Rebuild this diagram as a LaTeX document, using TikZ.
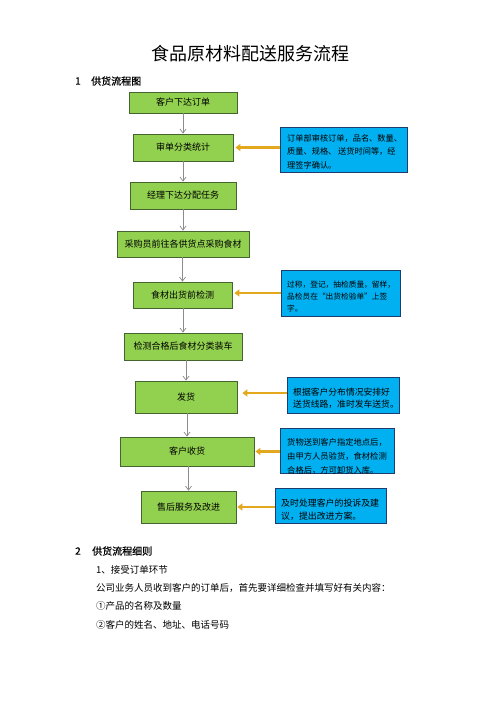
\documentclass[tikz,border=0pt]{standalone}
\usepackage{fontspec}
\setmainfont{Noto Sans CJK SC}
\newfontfamily\headfont[FakeBold=0.6]{Noto Sans CJK SC}
\usetikzlibrary{arrows.meta}
\definecolor{gfill}{RGB}{146,208,80}
\definecolor{gline}{RGB}{70,100,50}
\definecolor{bfill}{RGB}{0,176,240}
\definecolor{bline}{RGB}{30,60,110}
\definecolor{oarrow}{RGB}{228,168,30}
\definecolor{garrow}{RGB}{140,140,140}
\begin{document}
\begin{tikzpicture}[x=1pt,y=-1pt,
  greenbox/.style={draw=gline, fill=gfill, line width=0.8pt, inner sep=0pt, font=\fontsize{9}{11}\selectfont},
  bluebox/.style={draw=bline, fill=bfill, line width=0.8pt, inner sep=0pt},
  notetext/.style={anchor=west, inner sep=0pt, align=left},
  flowarrow/.style={draw=garrow, line width=0.7pt, -{Straight Barb[length=4pt,width=6pt]}},
  notearrow/.style={draw=oarrow, line width=2.5pt, -{Triangle[length=5pt,width=7pt]}},
  heading/.style={anchor=west, inner sep=0pt, font=\headfont\fontsize{10}{12}\selectfont},
  bodytext/.style={anchor=west, inner sep=0pt, font=\fontsize{9.5}{12}\selectfont}]
\fill[white] (0,0) rectangle (500,707);
\useasboundingbox (0,0) rectangle (500,707);

\node[inner sep=0pt, font=\fontsize{18}{20}\selectfont] (title) at (250.5,53.5) {食品原材料配送服务流程};
\node[heading] (h1num) at (75,81) {1};
\node[heading] (h1) at (91,81) {供货流程图};

% green flow boxes
\node[greenbox, minimum width=108pt, minimum height=21pt] (b1) at (183,102.5) {客户下达订单};
\node[greenbox, minimum width=100pt, minimum height=27pt] (b2) at (183,147.5) {审单分类统计};
\node[greenbox, minimum width=106pt, minimum height=27pt] (b3) at (183,195.5) {经理下达分配任务};
\node[greenbox, minimum width=132pt, minimum height=26pt] (b4) at (183,244) {采购员前往各供货点采购食材};
\node[greenbox, minimum width=99pt, minimum height=26pt] (b5) at (182.5,295) {食材出货前检测};
\node[greenbox, minimum width=118pt, minimum height=27pt] (b6) at (183,346.5) {检测合格后食材分类装车};
\node[greenbox, minimum width=102pt, minimum height=32pt] (b7) at (186,397) {发货};
\node[greenbox, minimum width=134pt, minimum height=29pt] (b8) at (187,451.5) {客户收货};
\node[greenbox, minimum width=95pt, minimum height=32pt] (b9) at (188.5,507) {售后服务及改进};

% gray flow arrows
\draw[flowarrow] (b1.south -| b2.north) -- (b2.north);
\draw[flowarrow] (b2.south -| b3.north) -- (b3.north);
\draw[flowarrow] (b3.south -| b4.north) -- (b4.north);
\draw[flowarrow] (b4.south -| b5.north) -- (b5.north);
\draw[flowarrow] (b5.south -| b6.north) -- (b6.north);
\draw[flowarrow] (b6.south -| b7.north) -- (b7.north);
\draw[flowarrow] (b7.south -| b8.north) -- (b8.north);
\draw[flowarrow] (b8.south -| b9.north) -- (b9.north);

% blue note boxes
\node[bluebox, minimum width=127pt, minimum height=45pt] (n1) at (343.5,149.5) {};
\node[notetext, font=\fontsize{8.2}{13.3}\selectfont] (t1) at (287,151.7) {订单部审核订单，品名、数量、\\质量、规格、 送货时间等，经\\理签字确认。};
\node[bluebox, minimum width=119pt, minimum height=46pt] (n2) at (340.5,293) {};
\node[notetext, font=\fontsize{7.7}{12}\selectfont] (t2) at (287,297) {过称，登记，抽检质量，留样，\\品检员在“出货检验单”上签\\字。};
\node[bluebox, minimum width=112pt, minimum height=36pt] (n3) at (343,395) {};
\node[notetext, font=\fontsize{8.8}{11.7}\selectfont] (t3) at (293,398) {根据客户分布情况安排好\\送货线路，准时发车送货。};
\node[bluebox, minimum width=114pt, minimum height=45pt] (n4) at (337,450.5) {};
\node[notetext, font=\fontsize{8.3}{14}\selectfont] (t4) at (287,456) {货物送到客户指定地点后，\\由甲方人员验货，食材检测\\合格后，方可卸货入库。};
\node[bluebox, minimum width=111pt, minimum height=35pt] (n5) at (330.5,505.5) {};
\node[notetext, font=\fontsize{8.9}{12.7}\selectfont] (t5) at (281,510) {及时处理客户的投诉及建\\议，提出改进方案。};

% orange arrows
\draw[notearrow] (n1.west |- b2.east) -- ([xshift=2pt]b2.east);
\draw[notearrow] ([yshift=2pt]n2.west |- b5.east) -- ([xshift=2pt,yshift=2pt]b5.east);
\draw[notearrow] ([yshift=4pt]n3.west |- b7.east) -- ([xshift=5pt,yshift=4pt]b7.east);
\draw[notearrow] (n4.west |- b8.east) -- ([xshift=1pt]b8.east);
\draw[notearrow] (n5.west |- b9.east) -- ([xshift=1pt]b9.east);

% section 2
\node[heading] (h2num) at (75,551) {2};
\node[heading] (h2) at (92,551) {供货流程细则};
\node[bodytext] (l1) at (96,570) {1、接受订单环节};
\node[bodytext] (l2) at (96,588) {公司业务人员收到客户的订单后，首先要详细检查并填写好有关内容：};
\node[bodytext] (l3) at (96,606) {①产品的名称及数量};
\node[bodytext] (l4) at (96,625) {②客户的姓名、地址、电话号码};
\end{tikzpicture}
\end{document}
